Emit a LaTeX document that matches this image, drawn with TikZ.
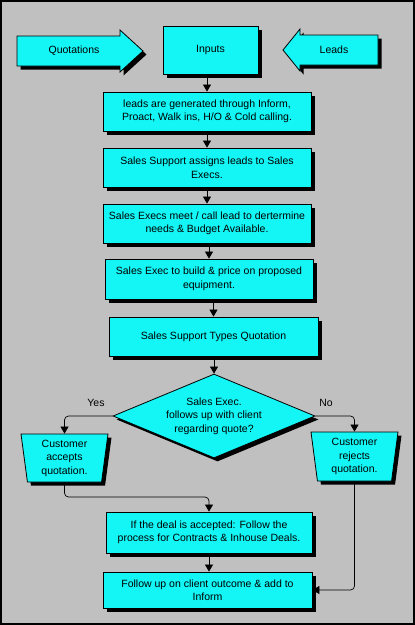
\documentclass[tikz,border=0pt]{standalone}
\usepackage{fontspec}
\setmainfont{Liberation Sans}
\usetikzlibrary{shapes.geometric,arrows.meta,shadows}
\definecolor{bgray}{RGB}{192,192,192}
\definecolor{cfill}{RGB}{20,245,245}
\begin{document}
\begin{tikzpicture}[x=1pt,y=-1pt,
  shad/.style={drop shadow={shadow xshift=3.5pt,shadow yshift=-3.5pt,fill=black,opacity=1}},
  fbox/.style={draw=black,line width=0.8pt,fill=cfill,shad,align=center,inner sep=1pt,
    font=\fontsize{10.5}{13.5}\selectfont,text=black},
  rbox/.style={fbox,rectangle},
  conn/.style={draw=black,line width=0.7pt,rounded corners=4pt,-{Triangle[length=7pt,width=8pt]}},
  txt/.style={font=\fontsize{10.5}{13.5}\selectfont,text=black,align=center,inner sep=0pt},
  lbl/.style={font=\fontsize{10.5}{12}\selectfont,text=black}]
\useasboundingbox (0,0) rectangle (415,625);
\fill[bgray] (0,0) rectangle (415,625);
\draw[line width=1.5pt] (1,1) rectangle (414,624);

% block arrows
\path[draw=black,line width=0.8pt,fill=cfill,shad]
  (17,36) -- (120,36) -- (120,30) -- (143,51) -- (120,72) -- (120,66) -- (17,66) -- cycle;
\node[txt] (quot) at (74,51) {Quotations};
\path[draw=black,line width=0.8pt,fill=cfill,shad]
  (378,35) -- (300,35) -- (300,29) -- (283,50) -- (300,71) -- (300,65) -- (378,65) -- cycle;
\node[txt] (leads) at (334,50) {Leads};

% boxes
\node[rbox,minimum width=95pt,minimum height=48pt] (inputs) at (210.5,50) {Inputs};
\node[rbox,minimum width=208pt,minimum height=39pt] (b1) at (207,111.5)
  {leads are generated through Inform,\\Proact, Walk ins, H/O \& Cold calling.};
\node[rbox,minimum width=208pt,minimum height=39pt] (b2) at (207,167.5)
  {Sales Support assigns leads to Sales\\Execs.};
\node[rbox,minimum width=208pt,minimum height=39pt] (b3) at (207,223.5)
  {Sales Execs meet / call lead to dertermine\\needs \& Budget Available.};
\node[rbox,minimum width=208pt,minimum height=40pt] (b4) at (209,279)
  {Sales Exec to build \& price on proposed\\equipment.};
\node[rbox,minimum width=209pt,minimum height=39pt] (b5) at (213.5,336.5)
  {Sales Support Types Quotation};
\node[fbox,diamond,aspect=2.4,inner sep=0pt,minimum width=202pt,minimum height=84pt] (dia) at (214,416)
  {Sales Exec.\\follows up with client\\regarding quote?};
\node[fbox,trapezium,shape border rotate=180,trapezium left angle=80,trapezium right angle=80,
  trapezium stretches body,minimum width=87pt,minimum height=48pt,inner sep=0pt] (acc) at (64.5,458)
  {Customer\\accepts\\quotation.};
\node[fbox,trapezium,shape border rotate=180,trapezium left angle=80,trapezium right angle=80,
  trapezium stretches body,minimum width=87pt,minimum height=49pt,inner sep=0pt] (rej) at (354.5,456.5)
  {Customer\\rejects\\quotation.};
\node[rbox,minimum width=206pt,minimum height=41pt] (b6) at (209,532.5)
  {If the deal is accepted: Follow the\\process for Contracts \& Inhouse Deals.};
\node[rbox,minimum width=209pt,minimum height=36pt] (b7) at (207.5,590)
  {Follow up on client outcome \& add to\\Inform};

% labels
\node[lbl] (yes) at (96,403) {Yes};
\node[lbl] (no) at (326,403) {No};

% connectors
\coordinate (j1) at (0,497);
\draw[conn] (b1.north |- inputs.south) -- (b1.north);
\draw[conn] (b1.south) -- (b2.north);
\draw[conn] (b2.south) -- (b3.north);
\draw[conn] (b4.north |- b3.south) -- (b4.north);
\draw[conn] (b5.north |- b4.south) -- (b5.north);
\draw[conn] (dia.north |- b5.south) -- (dia.north);
\draw[conn] (dia.west) -| (acc.north);
\draw[conn] (dia.east) -| (rej.north);
\draw[conn] (acc.south) -- (acc.south |- j1) -| (b6.north);
\draw[conn] (b6.south) -- (b6.south |- b7.north);
\draw[conn] (rej.south) |- (b7.east);
\end{tikzpicture}
\end{document}
